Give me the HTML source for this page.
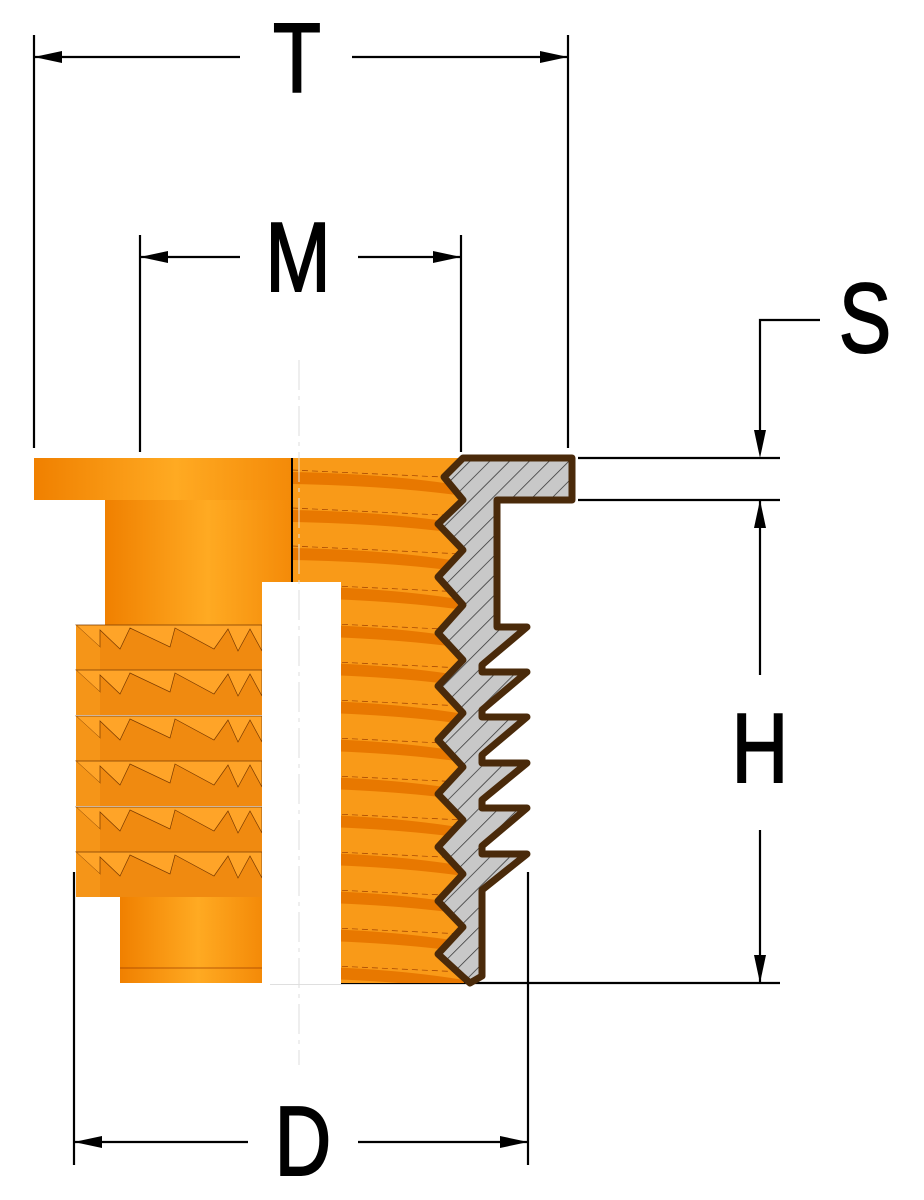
<!DOCTYPE html>
<html><head><style>html,body{margin:0;padding:0;background:#fff}svg{display:block}</style></head><body>
<svg width="924" height="1200" viewBox="0 0 924 1200" xmlns="http://www.w3.org/2000/svg">
<defs>
<linearGradient id="cyl" x1="0" x2="1" y1="0" y2="0">
<stop offset="0" stop-color="#f08000"/><stop offset="0.55" stop-color="#ffaa22"/><stop offset="1" stop-color="#f48a08"/>
</linearGradient>
<pattern id="thr" x="292" y="462" width="400" height="38" patternUnits="userSpaceOnUse">
<rect width="400" height="38" fill="#f99a18"/>
<path d="M0 10 Q100 12 172 24 L172 34 Q100 24 0 22Z" fill="#e87800"/>
<path d="M0 8 L172 16" stroke="#a04000" stroke-width="0.7" stroke-dasharray="6 4"/>
</pattern>
<pattern id="hatch" width="14" height="14" patternUnits="userSpaceOnUse" patternTransform="rotate(45)">
<rect width="14" height="14" fill="#c8c8c8"/><line x1="0" y1="0" x2="0" y2="14" stroke="#333" stroke-width="1.5"/>
</pattern>
<g id="ring">
<rect x="76" y="0" width="186" height="45" fill="#f08a10"/>
<path d="M76 0 L262 0 L262 26 L250 4 L238 26 L228 4 L214 24 L175 3 L170 22 L130 3 L120 24 L100 5 L100 22Z" fill="#ffa428" stroke="#7a3a00" stroke-width="0.7"/>
<path d="M76 0 L100 22 L100 45 L76 45Z" fill="#f59518"/>
</g>
</defs>
<g stroke="#000" stroke-width="2.2" fill="none">
<line x1="34" y1="35" x2="34" y2="448"/><line x1="568" y1="35" x2="568" y2="448"/>
<line x1="34" y1="57" x2="240" y2="57"/><line x1="352" y1="57" x2="568" y2="57"/>
<line x1="140" y1="235" x2="140" y2="452"/><line x1="461" y1="235" x2="461" y2="452"/>
<line x1="140" y1="257" x2="240" y2="257"/><line x1="358" y1="257" x2="461" y2="257"/>
<polyline points="820,320 760,320 760,440"/>
<line x1="578" y1="458" x2="780" y2="458"/><line x1="578" y1="500" x2="780" y2="500"/>
<line x1="760" y1="500" x2="760" y2="675"/><line x1="760" y1="830" x2="760" y2="983"/>
<line x1="270" y1="983" x2="780" y2="983"/>
<line x1="74" y1="872" x2="74" y2="1165"/><line x1="528" y1="872" x2="528" y2="1165"/>
<line x1="74" y1="1142" x2="248" y2="1142"/><line x1="358" y1="1142" x2="528" y2="1142"/>
</g>
<g fill="#000">
<polygon points="34,57 62,51 62,63"/><polygon points="568,57 540,51 540,63"/>
<polygon points="140,257 168,251 168,263"/><polygon points="461,257 433,251 433,263"/>
<polygon points="760,458 754,430 766,430"/>
<polygon points="760,500 754,528 766,528"/><polygon points="760,983 754,955 766,955"/>
<polygon points="74,1142 102,1136 102,1148"/><polygon points="528,1142 500,1136 500,1148"/>
</g>
<g font-family="Liberation Sans, sans-serif" font-size="98" fill="#000" text-anchor="middle" stroke="#000" stroke-width="2">
<text x="297" y="92" transform="translate(297 0) scale(0.8 1) translate(-297 0)">T</text>
<text x="298" y="291" transform="translate(298 0) scale(0.8 1) translate(-298 0)">M</text>
<text x="865" y="352" transform="translate(865 0) scale(0.8 1) translate(-865 0)">S</text>
<text x="760" y="782" transform="translate(760 0) scale(0.8 1) translate(-760 0)">H</text>
<text x="303" y="1175" transform="translate(303 0) scale(0.8 1) translate(-303 0)">D</text>
</g>
<!-- left body -->
<rect x="34" y="458" width="258" height="42" fill="url(#cyl)"/>
<rect x="105" y="500" width="187" height="126" fill="url(#cyl)"/>
<use href="#ring" y="625"/><use href="#ring" y="670"/><use href="#ring" y="716"/>
<use href="#ring" y="761"/><use href="#ring" y="807"/><use href="#ring" y="852"/>
<rect x="120" y="897" width="142" height="86" fill="url(#cyl)"/>
<line x1="120" y1="968" x2="262" y2="968" stroke="#a04000" stroke-width="0.8"/>
<!-- right threaded -->
<rect x="292" y="458" width="172" height="525" fill="url(#thr)"/>
<rect x="262" y="582" width="79" height="402" fill="#fff"/>
<line x1="292" y1="458" x2="292" y2="582" stroke="#000" stroke-width="2"/>
<line x1="299" y1="360" x2="299" y2="1065" stroke="#ddd" stroke-width="1" stroke-dasharray="30 6 4 6"/>
<!-- section -->
<path d="M463 458 L572 458 L572 500 L497 500 L497 627 L527 627 L482 665 L482 672 L527 672 L482 710 L482 717 L527 717 L482 755 L482 763 L527 763 L482 800 L482 808 L527 808 L482 846 L482 854 L527 854 L482 890 L482 976 L470 983 L462 976 L438 954 L463 927 L438 901 L463 874 L438 847 L463 820 L438 794 L463 767 L438 740 L463 713 L438 686 L463 660 L438 633 L463 605 L438 577 L463 550 L438 524 L463 500 L444 477Z" fill="url(#hatch)" stroke="#4a2a0a" stroke-width="7" stroke-linejoin="round"/>
</svg>
</body></html>
